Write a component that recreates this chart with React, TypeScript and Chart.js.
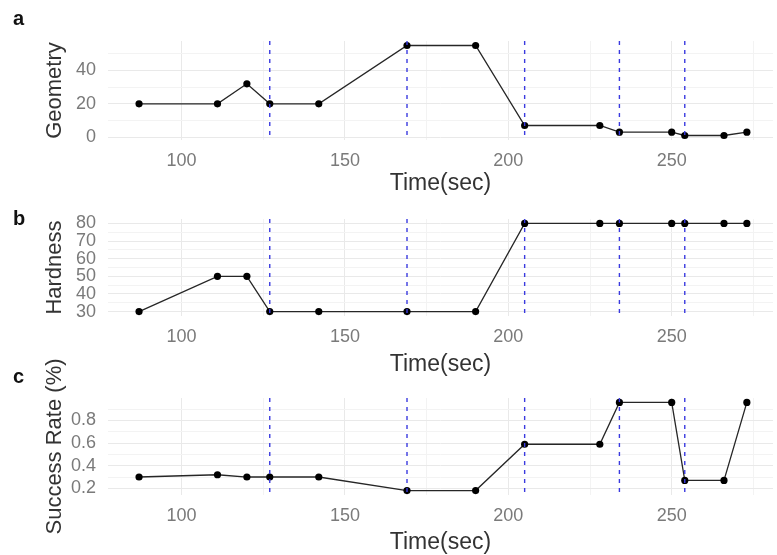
import React, { useEffect, useRef } from "react";
import { Chart, registerables } from "chart.js";

Chart.register(...registerables);

// ---- data ----
const times = [87, 111, 120, 127, 142, 169, 190, 205, 228, 234, 250, 254, 266, 273];
const geometry = [20, 20, 32, 20, 20, 55, 55, 7, 7, 3, 3, 1, 1, 3];
const hardness = [30, 50, 50, 30, 30, 30, 30, 80, 80, 80, 80, 80, 80, 80];
const successRate = [0.3, 0.32, 0.3, 0.3, 0.3, 0.18, 0.18, 0.59, 0.59, 0.96, 0.96, 0.27, 0.27, 0.96];
const eventTimes = [127, 169, 205, 234, 254];

const xMajorTicks = [100, 150, 200, 250];
const xMinorTicks = [125, 175, 225, 275];
const geometryMajorTicks = [0, 20, 40];
const geometryMinorTicks = [10, 30, 50];
const hardnessMajorTicks = [30, 40, 50, 60, 70, 80];
const hardnessMinorTicks = [35, 45, 55, 65, 75];
const successMajorTicks = [0.2, 0.4, 0.6, 0.8];
const successMinorTicks = [0.3, 0.5, 0.7, 0.9];

const FONT = "'Liberation Sans', Arial, sans-serif";
const TICK_COLOR = "#7a7a7a";
const TITLE_COLOR = "#333333";
const MAJOR_GRID = "#e9e9e9";
const MINOR_GRID = "#f3f3f3";

const vlinePlugin = {
  id: "vlines",
  afterDatasetsDraw(chart: any) {
    const { ctx, chartArea, scales } = chart;
    ctx.save();
    ctx.strokeStyle = "#3a3ae0";
    ctx.lineWidth = 1.4;
    ctx.setLineDash([4, 5]);
    eventTimes.forEach((t) => {
      const x = scales.x.getPixelForValue(t);
      ctx.beginPath();
      ctx.moveTo(x, chartArea.top);
      ctx.lineTo(x, chartArea.bottom);
      ctx.stroke();
    });
    ctx.restore();
  },
};

type PanelProps = {
  top: number;
  height: number;
  padTop: number;
  xHeight: number;
  titleBottomPad: number;
  values: number[];
  yMin: number;
  yMax: number;
  yMajor: number[];
  yMinor: number[];
  yTitle: string;
};

function Panel(p: PanelProps) {
  const ref = useRef<HTMLCanvasElement | null>(null);
  useEffect(() => {
    if (!ref.current) return;
    const chart = new Chart(ref.current, {
      type: "line",
      data: {
        datasets: [
          {
            data: times.map((t, i) => ({ x: t, y: p.values[i] })),
            borderColor: "#262626",
            borderWidth: 1.3,
            pointBackgroundColor: "#000",
            pointBorderColor: "#000",
            pointBorderWidth: 0,
            pointRadius: 3.6,
            tension: 0,
          },
        ],
      },
      options: {
        animation: false,
        responsive: false,
        devicePixelRatio: 1,
        layout: { padding: { top: p.padTop, left: 0, right: 0, bottom: 0 } },
        plugins: { legend: { display: false }, tooltip: { enabled: false } },
        scales: {
          x: {
            type: "linear",
            min: 77.5,
            max: 281,
            afterBuildTicks: (scale: any) => {
              scale.ticks = [...xMajorTicks, ...xMinorTicks]
                .sort((a, b) => a - b)
                .map((v) => ({ value: v }));
            },
            afterFit: (scale: any) => {
              scale.height = p.xHeight;
            },
            grid: {
              drawTicks: false,
              color: (ctx: any) => (xMajorTicks.includes(ctx.tick?.value) ? MAJOR_GRID : MINOR_GRID),
              lineWidth: 1,
            },
            border: { display: false },
            ticks: {
              autoSkip: false,
              maxRotation: 0,
              padding: 10,
              color: TICK_COLOR,
              font: { family: FONT, size: 18 },
              callback: (v: any) => (xMajorTicks.includes(Number(v)) ? String(v) : ""),
            },
            title: {
              display: true,
              text: "Time(sec)",
              color: TITLE_COLOR,
              font: { family: FONT, size: 23, lineHeight: 1 },
              padding: { top: 0, bottom: p.titleBottomPad },
            },
          },
          y: {
            type: "linear",
            min: p.yMin,
            max: p.yMax,
            afterBuildTicks: (scale: any) => {
              scale.ticks = [...p.yMajor, ...p.yMinor]
                .sort((a, b) => a - b)
                .map((v) => ({ value: v }));
            },
            afterFit: (scale: any) => {
              scale.width = 108;
            },
            grid: {
              drawTicks: false,
              color: (ctx: any) => (p.yMajor.includes(ctx.tick?.value) ? MAJOR_GRID : MINOR_GRID),
              lineWidth: 1,
            },
            border: { display: false },
            ticks: {
              autoSkip: false,
              padding: 12,
              color: TICK_COLOR,
              font: { family: FONT, size: 18 },
              callback: (v: any) => (p.yMajor.includes(Number(v)) ? String(v) : ""),
            },
            title: {
              display: true,
              text: p.yTitle,
              color: TITLE_COLOR,
              font: { family: FONT, size: 22, lineHeight: 1 },
              padding: { top: 44, bottom: 0 },
            },
          },
        },
      },
      plugins: [vlinePlugin],
    } as any);
    return () => chart.destroy();
  }, []);
  return (
    <canvas
      ref={ref}
      width={777}
      height={p.height}
      style={{ position: "absolute", left: 0, top: p.top, width: 777, height: p.height }}
    />
  );
}

const letterStyle: React.CSSProperties = {
  position: "absolute",
  left: 13,
  fontFamily: FONT,
  fontWeight: "bold",
  fontSize: 20,
  lineHeight: 1,
  color: "#111",
};

export default function App() {
  return (
    <div style={{ position: "absolute", left: 0, top: 0, width: 777, height: 555, background: "#fff", overflow: "hidden" }}>
      <Panel
        top={0}
        height={195}
        padTop={41}
        xHeight={55}
        titleBottomPad={0}
        values={geometry}
        yMin={-1.7}
        yMax={57.7}
        yMajor={geometryMajorTicks}
        yMinor={geometryMinorTicks}
        yTitle="Geometry"
      />
      <Panel
        top={195}
        height={182}
        padTop={24}
        xHeight={61}
        titleBottomPad={1}
        values={hardness}
        yMin={27.5}
        yMax={82.5}
        yMajor={hardnessMajorTicks}
        yMinor={hardnessMinorTicks}
        yTitle="Hardness"
      />
      <Panel
        top={345}
        height={210}
        padTop={53}
        xHeight={60}
        titleBottomPad={1}
        values={successRate}
        yMin={0.141}
        yMax={0.999}
        yMajor={successMajorTicks}
        yMinor={successMinorTicks}
        yTitle="Success Rate (%)"
      />
      <div style={{ ...letterStyle, top: 8 }}>a</div>
      <div style={{ ...letterStyle, top: 208 }}>b</div>
      <div style={{ ...letterStyle, top: 366 }}>c</div>
    </div>
  );
}
